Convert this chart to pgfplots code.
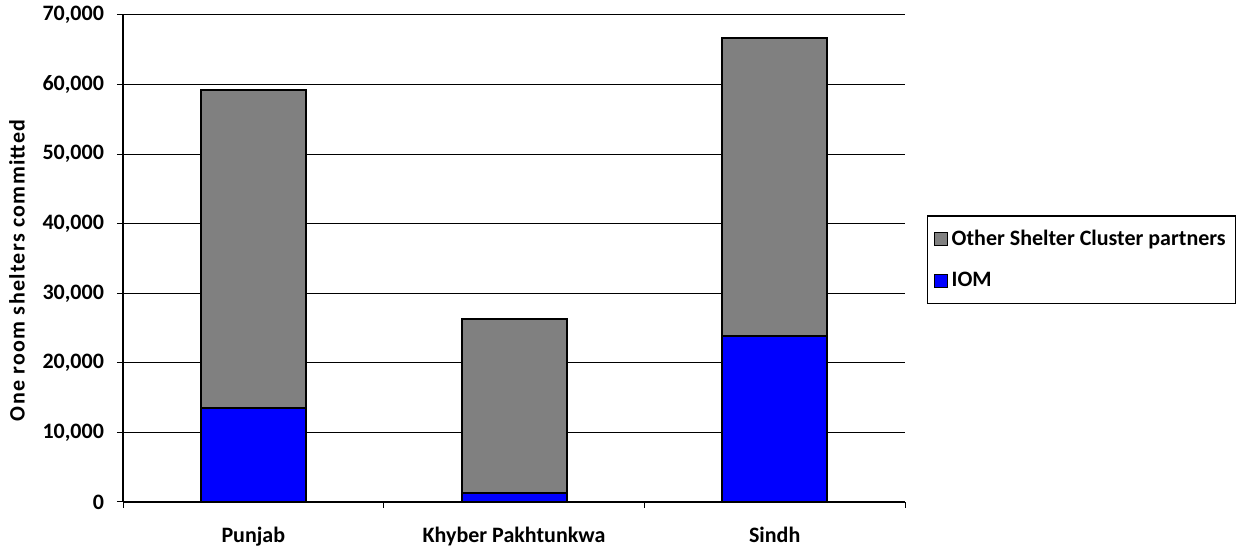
\documentclass[border=0pt]{standalone}
\usepackage{fontspec}
\setmainfont{Carlito}
\usepackage{pgfplots}
\pgfplotsset{compat=1.18}
\definecolor{othergray}{HTML}{808080}
\definecolor{iomblue}{HTML}{0000FF}
\begin{document}
\begin{tikzpicture}
\path[use as bounding box] (-61.5pt,-24pt) rectangle (561pt,251pt);
\begin{axis}[
  at={(0,0)}, anchor=south west,
  scale only axis, width=391pt, height=243.5pt,
  ybar stacked, bar width=52.5pt,
  xmin=-0.5, xmax=2.5, ymin=0, ymax=70000,
  xtick={-0.5,0.5,1.5,2.5},
  x tick label as interval,
  xticklabels={Punjab, Khyber Pakhtunkwa, Sindh},
  ytick={0,10000,20000,30000,40000,50000,60000,70000},
  ymajorgrids, grid style={black, line width=0.5pt},
  axis x line*=bottom, axis y line*=left,
  axis line style={-, black, line width=0.8pt},
  tick align=outside, major tick length=3pt,
  tick style={black, line width=0.5pt},
  scaled y ticks=false,
  tick label style={font=\fontsize{11}{13}\selectfont\bfseries},
  yticklabel style={xshift=-3pt, /pgf/number format/1000 sep={,}, /pgf/number format/assume math mode=true},
  xticklabel style={yshift=-6pt},
  ylabel={One room shelters committed},
  every axis y label/.style={at={(axis description cs:-0.1356,0.476)}, rotate=90, anchor=center,
    font=\fontsize{11}{13}\selectfont\bfseries\addfontfeature{LetterSpace=6}},
  legend image code/.code={\draw[#1, draw=black, line width=0.6pt] (0pt,-3.25pt) rectangle (6.5pt,3.25pt);},
  reverse legend,
  legend style={at={(axis description cs:1.028,0.497)}, anchor=west,
    draw=black, line width=0.6pt, font=\fontsize{11}{13}\selectfont\bfseries,
    inner xsep=3pt, inner ysep=5pt, row sep=8pt},
  legend cell align=left,
]
\addplot[fill=iomblue, draw=black, line width=1pt] coordinates {(0,13550) (1,1300) (2,23900)};
\addplot[fill=othergray, draw=black, line width=1pt] coordinates {(0,45650) (1,25000) (2,42800)};
\legend{IOM, Other Shelter Cluster partners}
\end{axis}
\end{tikzpicture}
\end{document}
